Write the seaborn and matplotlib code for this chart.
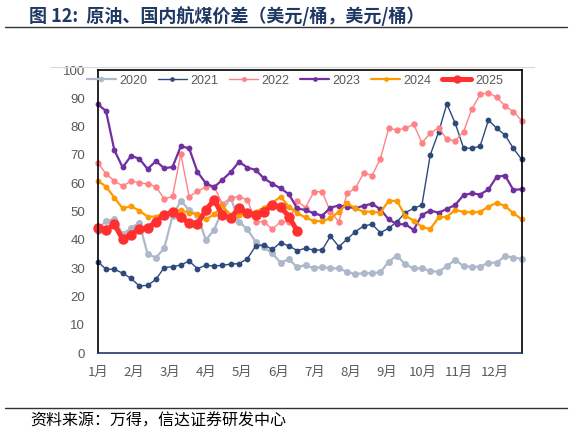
import numpy as np
import pandas as pd
import matplotlib
matplotlib.use("Agg")
import matplotlib.pyplot as plt
from matplotlib.lines import Line2D
import seaborn as sns

# ---------------- data ----------------
months = ["1月", "2月", "3月", "4月", "5月", "6月", "7月", "8月", "9月", "10月", "11月", "12月"]
years = ["2020", "2021", "2022", "2023", "2024", "2025"]

y2020 = [43.2, 46.8, 47.2, 42.0, 44.1, 46.1, 35.0, 33.7, 37.0, 48.4, 53.8, 50.5, 48.8,
         39.9, 43.5, 50.5, 54.9, 46.4, 43.7, 39.3, 37.3, 35.2, 31.9, 33.1, 30.3, 31.1,
         29.9, 30.5, 29.9, 29.9, 28.7, 27.9, 28.2, 28.2, 28.5, 32.3, 34.4, 31.3, 29.9,
         29.9, 29.0, 28.7, 30.7, 32.9, 30.7, 30.5, 30.5, 31.9, 31.9, 34.3, 33.7, 33.3]
y2021 = [32.3, 29.6, 29.6, 28.2, 26.4, 23.7, 23.9, 26.0, 30.2, 30.5, 31.1, 32.5, 29.8,
         31.0, 30.7, 31.0, 31.4, 31.6, 33.3, 37.8, 38.2, 36.6, 39.0, 37.8, 36.2, 37.0,
         36.4, 36.4, 41.3, 37.6, 40.2, 42.9, 44.9, 45.5, 42.5, 44.1, 46.4, 49.6, 51.1,
         52.3, 70.0, 78.0, 88.0, 81.2, 72.5, 72.3, 73.1, 82.3, 79.4, 77.0, 72.3, 68.4]
y2022 = [67.3, 63.3, 60.8, 59.0, 60.7, 60.2, 59.7, 58.8, 54.4, 55.4, 70.3, 55.2, 57.1,
         58.7, 58.8, 52.7, 54.9, 55.2, 54.1, 46.4, 46.4, 43.7, 46.4, 46.4, 53.7, 51.4,
         57.0, 57.0, 49.9, 46.4, 56.4, 58.2, 63.7, 62.7, 68.6, 79.4, 78.8, 79.4, 80.8,
         74.3, 77.6, 79.6, 75.5, 75.0, 78.2, 86.1, 91.4, 92.0, 90.3, 87.3, 85.3, 82.1]
y2023 = [87.9, 85.5, 71.7, 65.6, 69.6, 68.7, 65.0, 67.8, 65.3, 65.7, 73.1, 72.3, 64.0,
         60.0, 58.6, 61.2, 63.9, 67.6, 65.5, 64.7, 61.7, 59.8, 58.2, 56.1, 51.1, 50.5,
         49.4, 48.5, 51.4, 52.1, 51.7, 51.1, 52.1, 52.7, 50.8, 47.2, 45.5, 45.5, 43.5,
         48.8, 50.3, 49.6, 50.9, 52.3, 55.8, 56.4, 56.0, 57.8, 62.3, 62.7, 57.6, 57.9]
y2024 = [60.9, 58.8, 54.9, 51.1, 51.9, 50.3, 48.2, 48.2, 49.4, 50.3, 50.5, 49.4, 49.0,
         47.2, 49.0, 51.9, 48.8, 48.8, 49.7, 49.9, 51.4, 53.1, 55.2, 51.7, 49.4, 47.9,
         46.6, 46.6, 47.6, 49.9, 52.9, 51.1, 49.9, 49.9, 49.6, 53.8, 53.7, 48.5, 46.8,
         44.6, 43.8, 47.9, 48.2, 50.5, 49.9, 49.7, 49.9, 51.7, 53.1, 51.9, 49.4, 47.3]
y2025 = [44.3, 43.5, 45.5, 40.2, 41.8, 43.8, 44.1, 46.4, 48.8, 49.8, 48.0, 45.9, 45.5,
         50.5, 54.1, 48.8, 47.6, 51.4, 49.4, 48.8, 49.9, 52.3, 51.7, 48.2, 43.1]

series = [y2020, y2021, y2022, y2023, y2024, y2025]

# ---------------- styles ----------------
colors = ["#ADB9CA", "#2E4A7A", "#FF8286", "#7030A0", "#FF9900", "#FF3030"]
lws = [1.6, 1.0, 1.0, 1.6, 1.6, 3.6]
mss = [5.0, 4.2, 4.6, 4.2, 4.2, 7.5]

sns.set_style("white")
plt.rcParams["font.family"] = ["Noto Sans CJK SC", "DejaVu Sans"]

fig = plt.figure(figsize=(5.72, 4.36), dpi=100)
W, H = 572, 436
ax = fig.add_axes([97.7 / W, 1 - 353 / H, 424 / W, 283 / H])

for name, vals, c, lw, ms in zip(years, series, colors, lws, mss):
    df = pd.DataFrame({"week": np.arange(len(vals)), "value": vals})
    sns.lineplot(data=df, x="week", y="value", ax=ax, color=c, linewidth=lw,
                 marker="o", markersize=ms, markeredgewidth=0, label=name,
                 clip_on=False, legend=False)

ax.set_xlim(0, 51)
ax.set_ylim(0, 100)
ax.set_xlabel("")
ax.set_ylabel("")
ax.set_yticks(np.arange(0, 101, 10))
ax.set_xticks(np.arange(12) * 365 / 7 / 12)
ax.set_xticklabels(months)
ax.tick_params(axis="both", length=0, labelsize=9.5, colors="#595959")
ax.tick_params(axis="y", pad=9)
ax.tick_params(axis="x", pad=9)
for lab in ax.get_yticklabels():
    lab.set_family(["Liberation Sans", "DejaVu Sans"])
for s in ax.spines.values():
    s.set_visible(True)
    s.set_color("black")
    s.set_linewidth(1.2)
ax.spines["bottom"].set_color("#1F3864")
ax.grid(False)

handles = [Line2D([0], [0], color=c, lw=lw, marker="o", markersize=ms * 0.8,
                  markeredgewidth=0) for c, lw, ms in zip(colors, lws, mss)]
leg = ax.legend(handles, years, loc="center", bbox_to_anchor=(0.465, 0.962),
                ncol=6, frameon=False, fontsize=9, handlelength=2.3,
                handletextpad=0.3, columnspacing=0.85, borderaxespad=0,
                borderpad=0)
for t in leg.get_texts():
    t.set_color("#595959")
    t.set_family(["Liberation Sans", "DejaVu Sans"])

# title, separators, source
fig.text(29 / W, 1 - 16 / H, "图 12:  原油、国内航煤价差（美元/桶，美元/桶）",
         ha="left", va="center", fontsize=13, fontweight="bold", color="#1F3864")
fig.add_artist(Line2D([5 / W, 567 / W], [1 - 27 / H, 1 - 27 / H], color="#333333", lw=1.0))
fig.add_artist(Line2D([50 / W, 534 / W], [1 - 67 / H, 1 - 67 / H], color="#D9D9D9", lw=0.8))
fig.add_artist(Line2D([5 / W, 567 / W], [1 - 408 / H, 1 - 408 / H], color="#333333", lw=1.0))
fig.text(30 / W, 1 - 421 / H, "资料来源：万得，信达证券研发中心", ha="left", va="center",
         fontsize=11.5, style="italic", color="black")

fig.savefig("out.png", dpi=100)
